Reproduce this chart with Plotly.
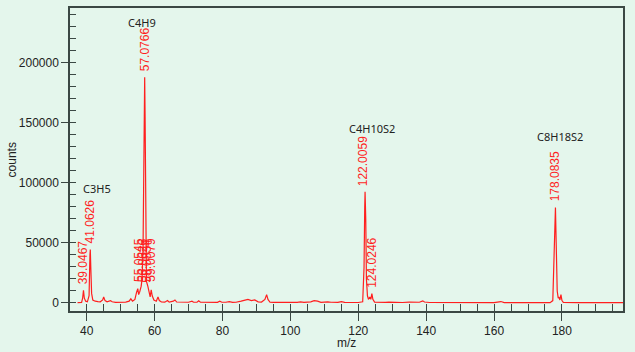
import plotly.graph_objects as go

# Spectrum profile (m/z, counts)
mz = [37.3, 38.5, 38.8, 39.05, 39.3, 39.7, 40.2, 40.7, 40.95, 41.06, 41.2, 41.45, 41.8,
      42.5, 43.3, 44.0, 44.7, 45.0, 45.4, 46.0, 47.0, 47.5, 48.5, 50.0, 51.5, 52.5, 53.0,
      53.5, 54.2, 54.7, 55.05, 55.3, 55.6, 56.05, 56.3, 56.6, 56.8, 56.95, 57.08, 57.2,
      57.35, 57.6, 58.0, 58.3, 58.7, 59.0, 59.3, 59.8, 60.5, 61.0, 61.4, 62.0, 63.0, 63.8,
      64.3, 65.5, 66.0, 66.5, 68.0, 70.0, 71.0, 71.5, 72.5, 73.0, 73.5, 75.0, 77.0, 78.5,
      79.2, 79.8, 81.0, 82.0, 83.0, 84.0, 85.5, 86.5, 87.5, 88.5, 89.5, 90.5, 91.5, 92.5,
      93.0, 93.4, 94.0, 95.0, 97.0, 100.0, 102.0, 103.0, 104.0, 106.0, 107.0, 108.0, 109.0,
      111.0, 112.0, 114.0, 115.0, 116.0, 118.0, 120.0, 121.3, 121.7, 121.9, 122.0, 122.2,
      122.4, 122.7, 123.0, 123.4, 123.7, 124.0, 124.3, 124.8, 126.0, 128.0, 129.0, 131.0,
      133.0, 135.0, 136.0, 137.0, 138.0, 139.0, 139.5, 141.0, 145.0, 150.0, 155.0, 160.0,
      162.0, 163.0, 170.0, 176.5, 177.3, 177.7, 177.95, 178.08, 178.3, 178.6, 178.9, 179.1,
      179.4, 179.7, 180.0, 180.4, 185.0, 190.0, 198.0]
counts = [300, 500, 4000, 10500, 4000, 1500, 1000, 6000, 40000, 44500, 30000, 8000, 2500,
          1500, 1200, 1000, 2500, 5000, 2000, 1000, 2000, 1000, 500, 600, 800, 1500, 3500,
          1500, 3000, 9000, 12000, 7000, 9000, 14000, 20000, 45000, 120000, 180000, 188000, 155000,
          45000, 18000, 14000, 9000, 5000, 11000, 6000, 2500, 1500, 5000, 2000, 800, 700, 2000,
          700, 1500, 2500, 800, 500, 600, 1500, 600, 600, 1800, 600, 500, 800, 500,
          1500, 600, 600, 1200, 500, 600, 1500, 2500, 3000, 2000, 2500, 1000, 800, 3000,
          7000, 3000, 600, 500, 400, 400, 500, 1000, 500, 1000, 2000, 1500, 500,
          1000, 600, 500, 1200, 500, 400, 400, 1000, 30000, 80000, 92500, 70000,
          20000, 6000, 3000, 5000, 3000, 7800, 3000, 700, 500, 500, 800, 500,
          400, 700, 500, 900, 600, 1800, 800, 400, 300, 300, 300, 300,
          1200, 300, 300, 300, 2000, 40000, 70000, 79500, 50000, 10000, 4000, 5000,
          2500, 7000, 2000, 500, 300, 300, 300]

# Peak labels (red, rotated)
peak_mz = [39.0467, 41.0626, 57.0766, 122.0059, 124.0246, 178.0835]
peak_counts = [10500, 44500, 188000, 92500, 7800, 79500]
peak_text = ["39.0467", "41.0626", "57.0766", "122.0059", "124.0246", "178.0835"]
label_x = [38.9, 40.95, 57.2, 121.5, 123.8, 177.9]

# Crowded labels in the 55-59 cluster
cluster_x = [55.35, 56.6, 57.9, 59.1]
cluster_text = ["55.0545", "56.0626", "58.0834", "59.0079"]
cluster_counts = [14000, 14000, 14000, 14000]

# Formula labels (black)
formula_text = ["C3H5", "C4H9", "C4H10S2", "C8H18S2"]
formula_x = [42.9, 56.2, 124.1, 179.3]
formula_counts = [95600, 233900, 145600, 138900]

x_title = "m/z"
y_title = "counts"

red = "#ff1f1f"
bg = "#e4f6ec"
axis_col = "#3b4844"

fig = go.Figure()
fig.add_trace(go.Scatter(x=mz, y=counts, mode="lines",
                         line=dict(color=red, width=1.2), hoverinfo="skip",
                         showlegend=False))

for x, y, t in zip(label_x, peak_counts, peak_text):
    fig.add_annotation(x=x, y=y, text=t, textangle=-90, showarrow=False,
                       xanchor="center", yanchor="bottom", yshift=4,
                       font=dict(family="Liberation Sans, Arial", size=12, color=red))
for x, y, t in zip(cluster_x, cluster_counts, cluster_text):
    fig.add_annotation(x=x, y=y, text=t, textangle=-90, showarrow=False,
                       xanchor="center", yanchor="bottom", yshift=2,
                       font=dict(family="Liberation Sans, Arial", size=12, color=red))
for x, y, t in zip(formula_x, formula_counts, formula_text):
    fig.add_annotation(x=x, y=y, text=t, showarrow=False,
                       xanchor="center", yanchor="middle",
                       font=dict(family="Noto Sans, Open Sans", size=11, color="#222222"))

# Axis titles
fig.add_annotation(x=0.5, y=-0.104, xref="paper", yref="paper", text=x_title,
                   showarrow=False, xanchor="center", yanchor="middle",
                   font=dict(family="Liberation Sans, Arial", size=12, color="#222222"))
fig.add_annotation(x=-0.105, y=0.5, xref="paper", yref="paper", text=y_title,
                   textangle=-90, showarrow=False, xanchor="center", yanchor="middle",
                   font=dict(family="Liberation Sans, Arial", size=12, color="#222222"))

fig.update_layout(
    width=635, height=352,
    margin=dict(l=70, r=12, t=8, b=41, autoexpand=False),
    paper_bgcolor=bg, plot_bgcolor=bg,
    font=dict(family="Liberation Sans, Arial", size=12, color="#222222"),
    showlegend=False,
)
fig.update_xaxes(
    range=[35.08, 197.98], tick0=0, dtick=20, ticks="outside", ticklen=8,
    tickwidth=1.3, tickcolor=axis_col, showgrid=False, zeroline=False,
    showline=True, linecolor=axis_col, linewidth=1.5, mirror=True,
    automargin=False,
    minor=dict(dtick=5, tick0=0, ticks="inside", ticklen=7, tickwidth=1.3,
               tickcolor=axis_col, showgrid=False),
    tickfont=dict(size=12),
)
fig.update_yaxes(
    range=[-6667, 245583], tick0=0, dtick=50000, ticks="outside", ticklen=7,
    tickwidth=1.3, tickcolor=axis_col, showgrid=False, zeroline=False,
    showline=True, linecolor=axis_col, linewidth=1.5, mirror=True,
    automargin=False,
    minor=dict(dtick=10000, tick0=0, ticks="inside", ticklen=6, tickwidth=1.3,
               tickcolor=axis_col, showgrid=False),
    tickfont=dict(size=12), tickformat="d",
)

fig.write_html("out.html")
